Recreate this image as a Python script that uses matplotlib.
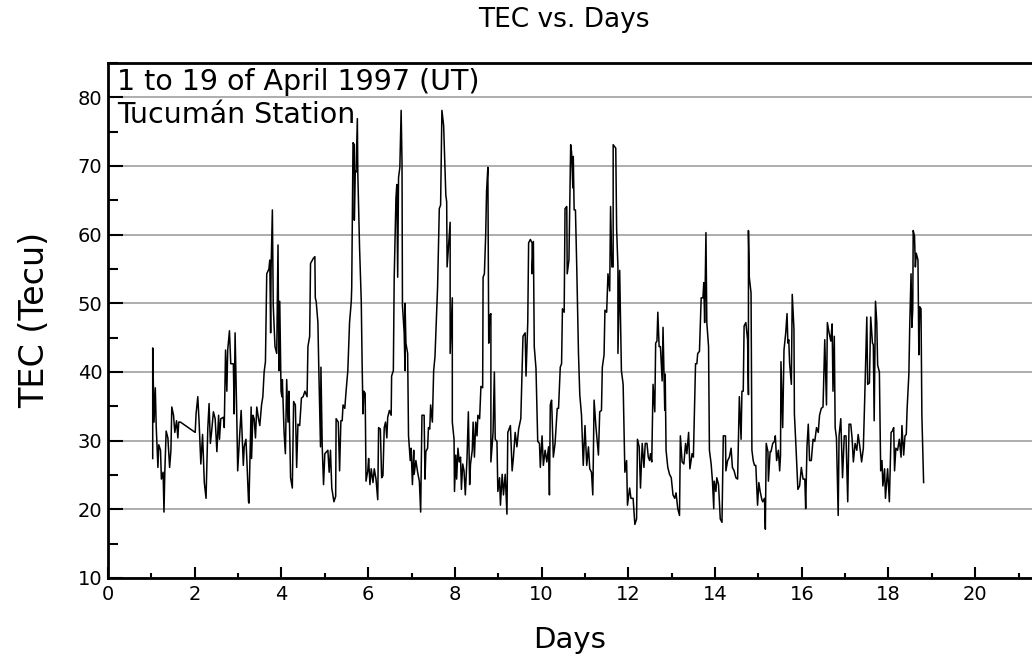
import numpy as np
import matplotlib
matplotlib.use('Agg')
import matplotlib.pyplot as plt
from matplotlib.ticker import MultipleLocator

# TEC readings, Tucuman station, April 1997 (day of month, TEC units)
days_a = [1.03, 1.03, 1.06, 1.09, 1.11, 1.15, 1.17, 1.21, 1.23, 1.27,
          1.29, 1.31, 1.34, 1.38, 1.42, 1.45, 1.47, 1.51, 1.54, 1.58,
          1.61, 1.63, 1.67, 2.01, 2.03, 2.07, 2.10, 2.14, 2.18, 2.22,
          2.26, 2.30, 2.33, 2.36, 2.39, 2.43, 2.47, 2.51, 2.55, 2.57,
          2.60, 2.66, 2.68, 2.71, 2.74, 2.76, 2.80, 2.83, 2.89, 2.91,
          2.93, 2.97, 2.99, 3.03, 3.07, 3.12, 3.14, 3.18, 3.20, 3.24,
          3.25, 3.30, 3.31, 3.34, 3.37, 3.40, 3.43, 3.47, 3.50, 3.54,
          3.57, 3.60, 3.63, 3.66, 3.71, 3.73, 3.75, 3.76, 3.79, 3.81,
          3.85, 3.89, 3.92, 3.94, 3.96, 3.99, 4.01, 4.02, 4.06, 4.09,
          4.12, 4.15, 4.17, 4.21, 4.25, 4.28, 4.32, 4.35, 4.38, 4.42,
          4.46, 4.50, 4.54, 4.59, 4.61, 4.65, 4.67, 4.73, 4.77, 4.78,
          4.80, 4.84, 4.86, 4.90, 4.91, 4.94, 4.97, 5.00, 5.07, 5.10,
          5.13, 5.16, 5.21, 5.25, 5.26, 5.31, 5.34, 5.37, 5.40, 5.42,
          5.46, 5.49, 5.53, 5.57, 5.61, 5.62, 5.65, 5.68, 5.68, 5.70,
          5.72, 5.75, 5.76, 5.80, 5.84, 5.86, 5.88, 5.90, 5.93, 5.95,
          5.99, 6.01, 6.04, 6.07, 6.11, 6.14, 6.18, 6.22, 6.24, 6.28,
          6.31, 6.34, 6.37, 6.40, 6.43, 6.45, 6.49, 6.53, 6.54, 6.58,
          6.60, 6.64, 6.66, 6.68, 6.70, 6.73, 6.76, 6.78, 6.79, 6.83,
          6.85, 6.85, 6.87, 6.91, 6.93, 6.97, 6.99]
tec_a = [27.4, 43.5, 32.7, 37.7, 32.2, 26.1, 29.4, 28.6, 24.4, 25.4,
         19.6, 25.6, 31.4, 30.4, 26.1, 28.6, 34.9, 33.7, 31.2, 32.9,
         30.4, 32.7, 32.7, 31.2, 33.9, 36.4, 32.7, 26.6, 30.9, 23.9,
         21.6, 31.7, 35.4, 29.6, 31.4, 34.2, 33.2, 28.4, 33.7, 30.2,
         33.2, 33.4, 31.9, 43.2, 37.2, 43.2, 46.0, 41.2, 41.2, 33.9,
         45.7, 33.2, 25.6, 30.2, 34.4, 26.4, 29.1, 30.2, 27.4, 21.1,
         20.9, 34.9, 27.4, 33.7, 33.2, 30.4, 34.9, 33.2, 32.2, 35.2,
         36.4, 40.0, 41.5, 54.3, 55.0, 56.3, 45.7, 55.0, 63.6, 49.7,
         43.7, 42.7, 58.5, 40.2, 50.3, 37.2, 36.4, 38.9, 31.2, 28.1,
         38.9, 32.7, 37.2, 24.6, 23.1, 35.7, 35.2, 26.1, 32.4, 32.2,
         36.2, 36.4, 37.2, 36.4, 43.7, 45.2, 55.8, 56.5, 56.8, 50.8,
         50.3, 47.2, 40.7, 29.1, 40.7, 29.1, 23.6, 28.1, 28.6, 25.4,
         28.6, 23.1, 21.1, 21.9, 33.2, 32.7, 25.6, 32.9, 32.9, 35.2,
         34.7, 37.2, 40.2, 47.2, 50.3, 52.3, 73.4, 73.1, 62.1, 69.3,
         69.1, 76.9, 69.1, 58.3, 50.3, 41.2, 33.9, 37.2, 36.9, 24.1,
         25.6, 27.4, 23.6, 25.9, 23.9, 25.9, 24.4, 21.4, 31.9, 31.7,
         24.6, 24.9, 31.9, 32.7, 30.4, 33.4, 34.4, 33.7, 39.4, 40.2,
         53.8, 65.3, 67.3, 53.8, 68.3, 69.8, 78.1, 70.4, 49.7, 45.7,
         40.2, 50.0, 44.2, 42.7, 30.7, 27.1, 28.9]

days_b = [7.02, 7.05, 7.06, 7.10, 7.14, 7.18, 7.21, 7.24, 7.29, 7.31,
          7.33, 7.37, 7.39, 7.42, 7.44, 7.48, 7.51, 7.54, 7.60, 7.64,
          7.67, 7.70, 7.74, 7.79, 7.81, 7.82, 7.89, 7.89, 7.94, 7.94,
          7.98, 7.99, 8.02, 8.04, 8.07, 8.10, 8.13, 8.15, 8.18, 8.21,
          8.24, 8.28, 8.31, 8.34, 8.36, 8.40, 8.42, 8.45, 8.48, 8.51,
          8.53, 8.57, 8.60, 8.64, 8.65, 8.68, 8.71, 8.73, 8.76, 8.78,
          8.80, 8.83, 8.83, 8.88, 8.91, 8.93, 8.97, 8.99, 9.03, 9.05,
          9.09, 9.12, 9.16, 9.20, 9.22, 9.28, 9.32, 9.35, 9.39, 9.43,
          9.47, 9.52, 9.57, 9.62, 9.64, 9.68, 9.70, 9.74, 9.78, 9.78,
          9.81, 9.83, 9.87, 9.91, 9.95, 9.97, 10.01, 10.04, 10.08, 10.12,
          10.16, 10.18, 10.20, 10.23, 10.27, 10.31, 10.36, 10.39, 10.43, 10.46,
          10.48, 10.52, 10.54, 10.58, 10.59, 10.63, 10.67, 10.69, 10.72, 10.73,
          10.75, 10.78, 10.81, 10.85, 10.88, 10.92, 10.96, 11.00, 11.04, 11.08,
          11.11, 11.15, 11.18, 11.19, 11.21, 11.25, 11.31, 11.34, 11.38, 11.40,
          11.44, 11.46, 11.50, 11.53, 11.57, 11.59, 11.62, 11.65, 11.65, 11.71,
          11.73, 11.76, 11.76, 11.80, 11.84, 11.88, 11.92, 11.96, 11.98, 12.03,
          12.06, 12.11, 12.15, 12.19, 12.21, 12.25, 12.28, 12.32, 12.36, 12.39,
          12.43, 12.46, 12.49, 12.51, 12.54, 12.57, 12.61, 12.63, 12.66, 12.68,
          12.71, 12.74, 12.78, 12.80, 12.84, 12.85, 12.87, 12.91, 12.95, 12.99]
tec_b = [23.6, 28.6, 25.1, 27.1, 25.4, 24.1, 19.6, 33.7, 33.7, 24.4,
         28.4, 28.9, 31.9, 31.7, 35.2, 32.7, 40.2, 42.2, 52.3, 63.8,
         64.3, 78.1, 75.9, 65.8, 64.8, 55.3, 61.8, 42.7, 50.8, 32.7,
         30.2, 22.6, 27.9, 24.4, 28.9, 26.9, 27.6, 22.9, 26.6, 25.6,
         22.1, 27.6, 34.2, 23.6, 26.6, 28.6, 32.7, 27.6, 32.7, 30.7,
         33.7, 33.2, 37.9, 37.7, 53.8, 54.3, 60.0, 66.3, 69.8, 44.2,
         48.2, 48.5, 26.9, 31.2, 40.0, 30.2, 29.9, 22.6, 24.6, 20.6,
         25.1, 22.1, 25.1, 19.3, 31.2, 32.2, 25.6, 27.6, 31.2, 29.1,
         31.7, 33.2, 45.2, 45.7, 39.4, 47.2, 58.8, 59.3, 58.8, 54.3,
         59.0, 43.7, 40.5, 29.9, 29.6, 26.1, 30.7, 26.4, 28.6, 26.9,
         29.1, 22.1, 35.2, 35.9, 27.6, 29.6, 34.7, 34.7, 40.7, 41.2,
         49.2, 48.7, 63.8, 64.1, 54.3, 56.3, 73.1, 72.1, 66.8, 71.4,
         63.6, 63.6, 55.3, 42.7, 36.7, 33.7, 26.4, 32.2, 26.4, 29.1,
         25.9, 25.4, 22.1, 26.1, 35.9, 32.2, 27.9, 34.2, 34.4, 40.7,
         42.5, 49.0, 48.7, 54.3, 51.8, 64.1, 55.3, 55.3, 73.1, 72.6,
         60.8, 55.3, 42.7, 54.8, 40.2, 38.2, 25.4, 27.1, 20.6, 23.1,
         21.6, 21.6, 17.8, 18.6, 30.2, 29.1, 23.1, 29.6, 26.1, 29.6,
         29.6, 27.6, 27.1, 28.1, 26.9, 38.2, 34.2, 44.2, 44.5, 48.7,
         43.7, 43.7, 38.7, 46.5, 34.4, 39.7, 28.6, 26.1, 25.1, 24.6]

days_c = [13.03, 13.07, 13.10, 13.14, 13.18, 13.20, 13.24, 13.28, 13.32, 13.35,
          13.39, 13.42, 13.47, 13.50, 13.55, 13.58, 13.60, 13.64, 13.68, 13.72,
          13.74, 13.76, 13.79, 13.81, 13.85, 13.87, 13.91, 13.94, 13.97, 13.98,
          14.02, 14.04, 14.08, 14.12, 14.16, 14.19, 14.24, 14.25, 14.29, 14.33,
          14.37, 14.40, 14.44, 14.48, 14.52, 14.56, 14.60, 14.62, 14.65, 14.67,
          14.71, 14.75, 14.77, 14.77, 14.79, 14.83, 14.85, 14.88, 14.91, 14.94,
          14.98, 15.01, 15.04, 15.08, 15.10, 15.14, 15.16, 15.18, 15.22, 15.23,
          15.27, 15.29, 15.33, 15.37, 15.39, 15.42, 15.46, 15.49, 15.51, 15.52,
          15.56, 15.59, 15.63, 15.66, 15.68, 15.70, 15.72, 15.76, 15.78, 15.82,
          15.83, 15.87, 15.91, 15.95, 15.99, 16.03, 16.07, 16.09, 16.12, 16.15,
          16.18, 16.22, 16.26, 16.30, 16.34, 16.38, 16.41, 16.45, 16.49, 16.53,
          16.57, 16.59, 16.63, 16.67, 16.70, 16.72, 16.75, 16.77, 16.80, 16.84,
          16.86, 16.90, 16.94, 16.98, 17.02, 17.06, 17.09, 17.13, 17.16, 17.19,
          17.23, 17.27, 17.30, 17.34, 17.38, 17.42, 17.45, 17.50, 17.52, 17.56,
          17.59, 17.63, 17.65, 17.67, 17.70, 17.73, 17.75, 17.79, 17.82, 17.85,
          17.87, 17.91, 17.93, 17.98, 18.02, 18.06, 18.09, 18.12, 18.14, 18.17,
          18.21, 18.25, 18.29, 18.31, 18.35, 18.38, 18.41, 18.43, 18.47, 18.49,
          18.52, 18.54, 18.56, 18.57, 18.60, 18.62, 18.64, 18.68, 18.70, 18.72,
          18.75, 18.77, 18.81]
tec_c = [22.1, 21.6, 22.4, 20.1, 19.1, 30.7, 26.9, 26.6, 29.6, 28.1,
         31.2, 25.9, 28.1, 27.6, 41.2, 41.2, 42.7, 43.0, 50.8, 50.8,
         53.0, 47.2, 60.3, 47.2, 43.7, 28.6, 26.6, 24.1, 20.1, 24.1,
         22.6, 24.6, 23.6, 18.6, 18.1, 30.7, 30.7, 25.6, 27.1, 27.6,
         28.9, 26.1, 25.6, 24.6, 24.4, 36.4, 30.2, 37.2, 37.2, 46.7,
         47.2, 44.7, 36.7, 60.6, 53.8, 51.5, 28.6, 27.1, 26.4, 26.4,
         20.6, 23.9, 22.6, 21.4, 21.1, 21.6, 17.1, 29.6, 28.4, 24.1,
         28.4, 28.4, 29.6, 29.9, 30.7, 27.1, 28.6, 25.6, 27.9, 41.5,
         31.9, 43.2, 45.7, 48.5, 44.2, 44.7, 41.2, 38.2, 51.3, 46.2,
         33.9, 28.6, 22.9, 23.4, 26.1, 24.4, 24.4, 20.1, 29.1, 32.4,
         27.1, 27.1, 30.2, 29.9, 31.9, 31.2, 33.7, 34.7, 34.9, 44.7,
         35.2, 47.2, 45.7, 44.5, 47.0, 37.2, 45.2, 31.9, 30.4, 19.1,
         30.7, 33.2, 24.6, 30.7, 30.7, 21.1, 32.4, 32.4, 30.4, 26.9,
         29.6, 28.6, 30.9, 29.1, 26.9, 28.9, 35.7, 48.0, 38.2, 38.4,
         48.0, 44.2, 44.0, 32.9, 50.3, 47.2, 41.0, 40.0, 25.6, 27.1,
         23.4, 25.9, 21.6, 25.9, 21.1, 31.2, 31.4, 31.9, 25.6, 28.9,
         28.6, 30.2, 27.6, 32.2, 27.9, 30.7, 30.9, 34.7, 39.7, 46.7,
         54.3, 46.5, 49.2, 60.6, 59.8, 55.3, 57.3, 56.3, 42.5, 49.5,
         49.2, 33.7, 23.9]

days = np.concatenate([days_a, days_b, days_c])
tec = np.concatenate([tec_a, tec_b, tec_c])

fig = plt.figure(figsize=(10.32, 6.61), dpi=100)
ax = fig.add_axes([0.1047, 0.1256, 0.8953, 0.7791])

ax.plot(days, tec, color='black', linewidth=1.1)

ax.set_xlim(0, 21.31)
ax.set_ylim(10, 85)
ax.xaxis.set_major_locator(MultipleLocator(2))
ax.xaxis.set_minor_locator(MultipleLocator(1))
ax.yaxis.set_major_locator(MultipleLocator(10))
ax.yaxis.set_minor_locator(MultipleLocator(5))

ax.tick_params(which='both', direction='in', width=1.5, labelsize=14,
               top=False, right=False)
ax.tick_params(axis='x', which='major', length=8, pad=5)
ax.tick_params(axis='x', which='minor', length=3.6)
ax.tick_params(axis='y', which='major', length=11, pad=4)
ax.tick_params(axis='y', which='minor', length=7)

ax.grid(axis='y', which='major', color='#a0a0a0', linewidth=1.2)
ax.set_axisbelow(True)

for side in ['left', 'bottom', 'top']:
    ax.spines[side].set_linewidth(2)
ax.spines['right'].set_visible(False)

ax.text(0.01, 0.963, '1 to 19 of April 1997 (UT)', transform=ax.transAxes,
        fontsize=20.5, va='center', ha='left')
ax.text(0.01, 0.899, 'Tucumán Station', transform=ax.transAxes,
        fontsize=20.5, va='center', ha='left')

fig.text(0.546, 0.970, 'TEC vs. Days', ha='center', va='center', fontsize=19)
fig.text(0.552, 0.032, 'Days', ha='center', va='center', fontsize=21)
fig.text(0.034, 0.516, 'TEC (Tecu)', ha='center', va='center', fontsize=24,
         rotation=90)

fig.savefig('out.png', dpi=100)
